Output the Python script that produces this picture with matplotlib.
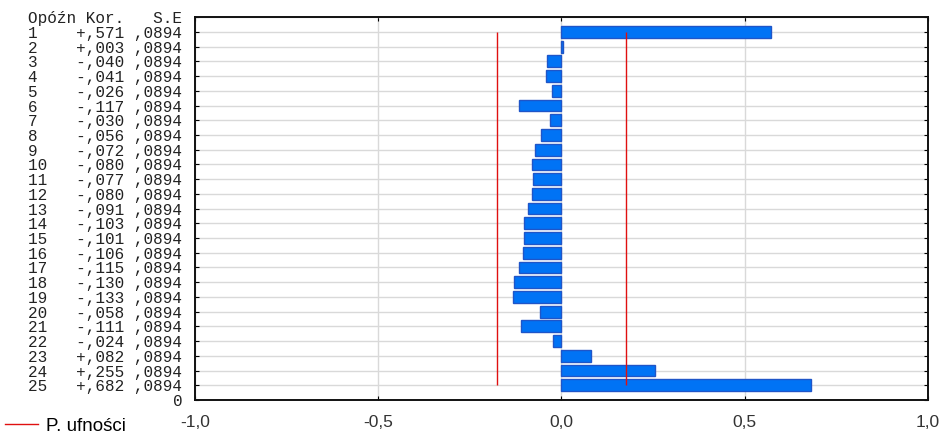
import matplotlib
matplotlib.use("Agg")
import matplotlib.pyplot as plt
from matplotlib.lines import Line2D

lags = list(range(1, 26))
corr = [0.571, 0.003, -0.040, -0.041, -0.026, -0.117, -0.030, -0.056, -0.072, -0.080,
        -0.077, -0.080, -0.091, -0.103, -0.101, -0.106, -0.115, -0.130, -0.133, -0.058,
        -0.111, -0.024, 0.082, 0.255, 0.682]
se = [0.0894] * 25
conf_limit = 0.1752
header = "Opóźn Kor.   S.E"
xticks = [-1.0, -0.5, 0.0, 0.5, 1.0]
xticklabels = ["-1,0", "-0,5", "0,0", "0,5", "1,0"]
legend_label = "P. ufności"

def fmt(v):
    s = f"{abs(v):.3f}"[1:].replace(".", ",")
    return ("+" if v >= 0 else "-") + s

n = len(lags)
pos = [n + 1 - k for k in lags]

fig = plt.figure(figsize=(9.42, 4.36), dpi=100)
ax = fig.add_axes([0.207, 0.0826, 0.778, 0.878])

ax.barh(pos, corr, height=0.8, color="#0073f5", edgecolor="#1f55c8", linewidth=1.0, zorder=3)
ax.vlines([-conf_limit, conf_limit], min(pos), max(pos), color="#e01010", linewidth=1.0, zorder=4)

ax.set_xlim(-1.0, 1.0)
ax.set_ylim(0, n + 1)
ax.set_xticks(xticks)
ax.set_xticklabels(xticklabels, fontsize=12.5, family="Liberation Sans", color="#333333")

ylabels = [f"{k:<2}   {fmt(c)} {str(s)[1:].replace('.', ',')}" for k, c, s in zip(lags, corr, se)]
ax.set_yticks([0] + pos + [n + 1])
ax.set_yticklabels(["0"] + ylabels + [header], family="Liberation Mono", fontsize=11.5, color="#222222")

ax.tick_params(axis="y", direction="in", length=3, right=True, left=True, pad=9)
ax.tick_params(axis="x", direction="in", length=3, top=True, bottom=True, pad=11)

ax.grid(True, color="#d9d9d9", linewidth=1.0, zorder=0)
ax.set_axisbelow(True)
for sp in ax.spines.values():
    sp.set_linewidth(1.4)
    sp.set_color("#111111")

handle = Line2D([0], [0], color="#e01010", linewidth=1.0)
fig.legend([handle], [legend_label], loc="center left", bbox_to_anchor=(5 / 942, 1 - 426 / 436),
           frameon=False, prop={"family": "Liberation Sans", "size": 13.5},
           handlelength=1.75, handletextpad=0.43, borderpad=0, borderaxespad=0)

fig.savefig("out.png", dpi=100)
